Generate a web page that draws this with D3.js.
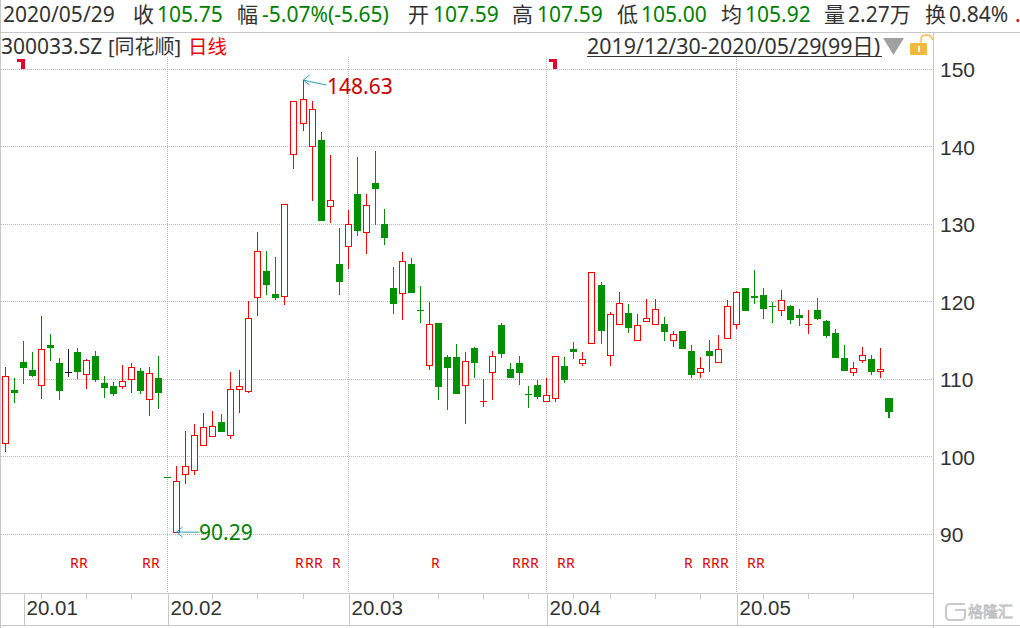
<!DOCTYPE html>
<html>
<head>
<meta charset="utf-8">
<script src="https://cdnjs.cloudflare.com/ajax/libs/d3/7.8.5/d3.min.js"></script>
<style>
html,body{margin:0;padding:0;background:#fff;overflow:hidden}
svg{display:block;font-family:"Noto Sans","Noto Sans CJK SC",sans-serif}
</style>
</head>
<body>
<svg id="chart" width="1020" height="628"></svg>
<script>
const opens=[101.76,108.63,112.25,111.21,109.24,114.44,112.12,110.92,113.54,110.74,113.02,109.54,109.15,109.11,110.01,111.08,107.43,110.18,97.37,90.35,97.76,98.27,101.50,102.74,104.47,102.79,108.72,108.47,120.60,123.99,121.02,120.72,139.05,143.04,140.08,140.89,132.34,124.89,127.18,133.92,128.98,135.34,130.05,121.79,121.11,124.89,118.92,111.82,117.28,112.89,112.89,109.24,114.05,107.18,110.92,117.02,111.34,112.12,108.08,109.28,107.18,107.56,111.73,113.92,112.08,114.66,122.18,113.11,117.11,118.57,115.05,117.58,117.11,117.15,115.05,116.25,113.67,110.99,113.67,112.21,115.30,117.11,121.79,120.76,120.89,119.43,118.99,119.47,118.31,117.11,118.95,117.53,115.99,112.76,110.99,112.47,112.63,111.08,107.59];
const highs=[111.56,110.18,114.95,113.54,118.18,115.86,112.76,113.92,114.05,112.63,113.67,110.44,109.67,111.86,112.12,111.47,111.60,113.02,97.37,98.83,103.30,104.25,105.63,105.92,105.54,110.96,111.21,120.12,128.98,126.57,125.79,132.59,145.88,148.63,145.88,141.92,138.95,129.53,131.86,138.66,133.92,139.47,131.99,124.50,126.44,125.67,122.05,119.99,117.28,113.15,114.57,113.54,114.18,110.05,113.67,117.28,112.12,113.02,109.15,109.92,110.18,112.98,112.89,114.83,113.54,123.82,122.57,118.70,121.28,119.73,118.44,120.37,120.37,118.05,116.25,116.25,114.44,112.89,115.08,115.73,120.24,121.37,121.79,124.12,121.79,119.99,121.53,119.60,119.08,118.95,120.50,117.66,116.50,114.44,112.25,114.18,113.15,114.05,107.59];
const lows=[100.67,107.00,109.45,110.31,107.51,112.41,107.38,110.31,110.05,108.80,109.67,107.64,107.90,108.80,108.29,108.15,105.32,106.22,97.37,90.29,96.54,97.70,101.50,102.61,103.25,102.35,105.70,108.29,118.22,120.93,120.28,119.64,137.19,142.05,133.06,130.44,130.22,120.93,124.28,128.54,126.22,129.96,127.38,118.48,117.70,121.19,117.32,111.25,107.38,106.09,108.15,104.29,110.22,106.48,107.38,112.76,110.18,109.32,106.35,107.47,107.18,107.12,109.54,112.63,111.77,114.66,114.57,111.73,117.11,115.99,115.05,117.58,117.11,114.95,114.18,113.92,110.18,110.18,110.96,112.21,115.30,116.50,118.83,119.73,117.79,117.28,118.18,117.15,116.89,115.86,117.66,115.34,112.76,111.08,110.44,112.12,110.57,110.18,105.00];
const closes=[110.40,108.25,111.47,110.44,113.88,114.05,108.50,110.92,110.96,112.47,109.92,108.89,108.12,109.75,111.56,108.50,110.79,108.25,97.37,96.85,98.79,102.79,103.82,103.95,103.25,108.72,109.11,117.88,126.53,122.22,120.54,132.59,145.88,146.14,144.85,130.44,133.11,122.61,130.01,129.19,132.46,134.57,128.28,119.77,125.24,121.19,118.92,117.11,109.06,111.47,108.15,112.34,112.12,107.18,112.98,113.28,110.18,110.83,108.08,107.73,107.95,112.98,109.92,113.54,112.59,123.82,116.25,118.40,119.82,116.63,116.98,117.88,119.05,116.12,115.82,113.92,110.57,111.43,113.02,113.88,119.43,121.24,118.83,120.50,119.08,119.43,120.21,117.66,117.92,117.11,117.79,115.60,112.76,111.08,111.43,113.11,110.96,111.34,105.75];
const flatUp=[53,89];
const flatBlack=[7];
const priceTicks=[90,100,110,120,130,140,150];
const monthIdx=[2,18,38,60,81];
const monthLabels=["20.01","20.02","20.03","20.04","20.05"];
const minorTickIdx=[4,9,14,23,28,33,43,48,53,58,63,67,72,77,84,89,94];
const rIdx=[7,8,15,16,32,33,34,36,47,56,57,58,61,62,75,77,78,79,82,83];
const headerItems=[
 ["2020/05/29",3,"#333"],["收",133,"#333"],["105.75",157,"#008000"],["幅",237,"#333"],
 ["-5.07%(-5.65)",262,"#008000"],["开",408,"#333"],["107.59",433,"#008000"],["高",512,"#333"],
 ["107.59",537,"#008000"],["低",617,"#333"],["105.00",641,"#008000"],["均",721,"#333"],
 ["105.92",745,"#008000"],["量",824,"#333"],["2.27万",848,"#333"],["换",925,"#333"],["0.84%",949,"#333"],[".",1015,"#e00000"]
];
const subCode="300033.SZ";
const subName="[同花顺]";
const subPeriod="日线";
const rangeText="2019/12/30-2020/05/29(99日)";
const maxLabel="148.63";
const minLabel="90.29";
const watermark="格隆汇";

const RED="#ff0000",GREEN="#009000",LINE="#c8c8c8",DOT="#b8b8b8",TXT="#333";
const svg=d3.select("#chart");
const n=opens.length;
const xRaw=d3.scaleLinear().domain([0,n-1]).range([5,889.97]);
const px=i=>Math.floor(xRaw(i));
const cx=i=>px(i)+0.5;
const y=d3.scaleLinear().domain([90,150]).range([534.4,69.4]);
const ry=v=>Math.round(y(v))+0.5;

// frame
const frame=svg.append("g").attr("shape-rendering","crispEdges").attr("stroke",LINE).attr("fill","none");
frame.append("line").attr("x1",0.5).attr("x2",0.5).attr("y1",0).attr("y2",628);
frame.append("line").attr("x1",0).attr("x2",1020).attr("y1",32.5).attr("y2",32.5);
frame.append("line").attr("x1",933.5).attr("x2",933.5).attr("y1",32).attr("y2",628);
frame.append("line").attr("x1",0).attr("x2",933).attr("y1",593.5).attr("y2",593.5);
frame.append("line").attr("x1",0).attr("x2",1020).attr("y1",625.5).attr("y2",625.5);

// grids
const grid=svg.append("g").attr("shape-rendering","crispEdges").attr("stroke",DOT).attr("stroke-dasharray","1,1");
grid.selectAll("line.h").data(priceTicks).join("line").attr("class","h")
 .attr("x1",1).attr("x2",933).attr("y1",d=>Math.floor(y(d))+0.5).attr("y2",d=>Math.floor(y(d))+0.5);
grid.selectAll("line.v").data(monthIdx.slice(1)).join("line").attr("class","v")
 .attr("x1",cx).attr("x2",cx).attr("y1",57).attr("y2",593);

// price axis
const yAxis=d3.axisRight(y).tickValues(priceTicks).tickSize(0).tickPadding(0).tickFormat(d3.format("d"));
const gy=svg.append("g").attr("transform","translate(940,0)").call(yAxis);
gy.select(".domain").remove();
gy.selectAll("text").attr("font-size",21).attr("fill",TXT).attr("font-family",null).attr("dy","0.36em");

// time axis
const xAxis=d3.axisBottom(d3.scaleOrdinal().domain(monthIdx).range(monthIdx.map(cx)))
 .tickValues(monthIdx).tickSize(32).tickPadding(0).tickFormat(d=>monthLabels[monthIdx.indexOf(d)]);
const gx=svg.append("g").attr("transform","translate(0,593)").call(xAxis);
gx.select(".domain").remove();
gx.selectAll("line").attr("stroke",LINE).attr("shape-rendering","crispEdges");
gx.selectAll("text").attr("font-size",20.5).attr("fill",TXT).attr("font-family",null)
 .attr("text-anchor","start").attr("x",2.5).attr("y",22).attr("dy",0);
svg.append("g").attr("shape-rendering","crispEdges").selectAll("line").data(minorTickIdx).join("line")
 .attr("x1",cx).attr("x2",cx).attr("y1",594).attr("y2",599).attr("stroke",LINE);

// candles
const candle=svg.append("g");
d3.range(n).forEach(i=>{
 const o=opens[i],c=closes[i],h=highs[i],l=lows[i],last=i===n-1;
 const col=o===c?(flatBlack.includes(i)?"#1a1a1a":flatUp.includes(i)?RED:GREEN):(c>o?RED:GREEN);
 const g=candle.append("g").attr("shape-rendering","crispEdges");
 if(last){
  g.append("rect").attr("x",888).attr("width",2).attr("y",y(h)).attr("height",y(l)-y(h)).attr("fill",col);
  g.append("rect").attr("x",885).attr("width",8).attr("y",Math.round(y(o))).attr("height",Math.round(y(c))-Math.round(y(o))).attr("fill",col);
  return;
 }
 g.append("line").attr("x1",cx(i)).attr("x2",cx(i)).attr("y1",Math.round(y(h))).attr("y2",Math.round(y(l))).attr("stroke",col);
 if(o===c){
  g.append("line").attr("x1",px(i)-3).attr("x2",px(i)+4).attr("y1",ry(o)).attr("y2",ry(o)).attr("stroke",col);
 }else if(c>o){
  g.append("rect").attr("x",px(i)-2.5).attr("width",6).attr("y",ry(c)).attr("height",ry(o)-ry(c))
   .attr("fill","#fff").attr("stroke",col);
 }else{
  g.append("rect").attr("x",px(i)-3).attr("width",7).attr("y",Math.round(y(o))).attr("height",Math.round(y(c))-Math.round(y(o))).attr("fill",col);
 }
});

// flags
svg.append("g").attr("fill","#e6002d").attr("shape-rendering","crispEdges").selectAll("path")
 .data([17,549]).join("path").attr("d",d=>`M${d} 59h8v10h-4v-7h-4z`);

// R marks
svg.append("g").selectAll("text").data(rIdx).join("text")
 .attr("x",d=>px(d)+2).attr("y",568).attr("font-size",14).attr("fill","#e00000").text("R");

// extreme annotations
const iMax=highs.indexOf(d3.max(highs)),iMin=lows.indexOf(d3.min(lows));
const teal="#2a9bb5";
const mx=cx(iMax),my=y(highs[iMax]);
svg.append("path").attr("fill","none").attr("stroke",teal)
 .attr("d",`M${mx+6} ${my-5}L${mx} ${my}L${mx+6} ${my+5}M${mx} ${my}L${mx+6} ${my+1.5}L${mx+23} ${my+5}`);
svg.append("text").attr("x",mx+23.5).attr("y",my+14).attr("font-size",21).attr("fill","#c80000").text(maxLabel);
const nx=cx(iMin),ny=y(lows[iMin]);
svg.append("path").attr("fill","none").attr("stroke",teal)
 .attr("d",`M${nx+6} ${ny-5}L${nx} ${ny}L${nx+6} ${ny+5}M${nx} ${ny}H${nx+23}`);
svg.append("text").attr("x",nx+22.5).attr("y",ny+8).attr("font-size",21).attr("fill","#008000").text(minLabel);

// header
svg.append("g").selectAll("text").data(headerItems).join("text")
 .attr("x",d=>d[1]).attr("y",22).attr("font-size",21).attr("fill",d=>d[2]).text(d=>d[0]);
svg.append("text").attr("x",1).attr("y",54).attr("font-size",21).attr("fill",TXT).text(subCode);
svg.append("text").attr("x",108).attr("y",54).attr("font-size",20).attr("fill",TXT).text(subName);
svg.append("text").attr("x",188).attr("y",54).attr("font-size",19.5).attr("fill","#f00000").text(subPeriod);
svg.append("text").attr("x",587).attr("y",54).attr("font-size",21.4).attr("fill",TXT).text(rangeText);
svg.append("line").attr("x1",587).attr("x2",882).attr("y1",56.5).attr("y2",56.5).attr("stroke",TXT).attr("shape-rendering","crispEdges");
svg.append("path").attr("d","M883 38H904L893.5 55Z").attr("fill","#a0a0a0");
svg.append("rect").attr("x",910).attr("y",43).attr("width",17).attr("height",12).attr("rx",1).attr("fill","#f2b93f");
svg.append("rect").attr("x",918).attr("y",46).attr("width",2).attr("height",6).attr("fill","#fff");
svg.append("path").attr("d","M921 43V39Q921 35 926.5 35Q932 35 932.5 40").attr("fill","none").attr("stroke","#f2b93f").attr("stroke-width",1.3);

// watermark
const wm=svg.append("g");
wm.append("path").attr("d","M965 604H950Q946 604 946 608V616Q946 620 950 620H961Q965 620 965 616V610H955").attr("fill","none").attr("stroke","#c9c9c9").attr("stroke-width",2);
wm.append("text").attr("x",968).attr("y",617).attr("font-size",15).attr("fill","#fff").attr("stroke","#bdbdbd").attr("stroke-width",0.8).text(watermark);
</script>
</body>
</html>
